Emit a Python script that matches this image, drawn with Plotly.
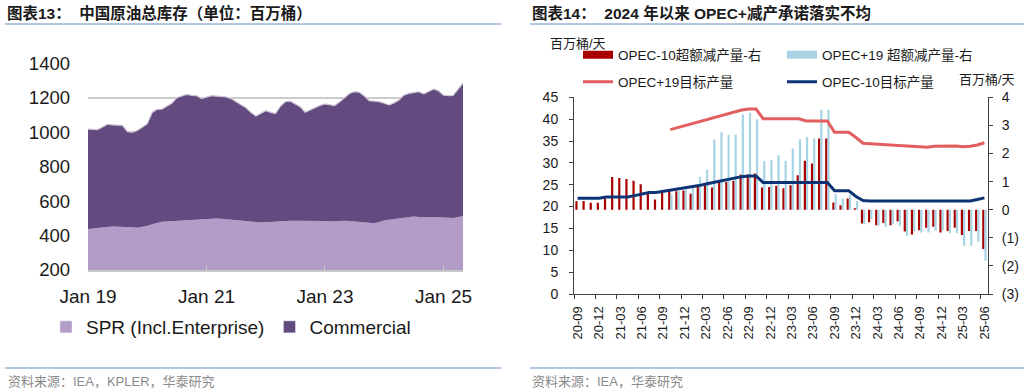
import plotly.graph_objects as go
import pandas as pd

# ---------------- Chart 13: China crude stocks (mb) ----------------
stock_months = pd.date_range("2019-01-01", periods=77, freq="MS")
spr_stock = [438, 440, 442, 446, 450, 452, 452, 452, 450, 448,
             446, 450, 457, 465, 472, 480, 482, 484, 486, 488,
             490, 492, 495, 497, 499, 500, 499, 497, 494, 492,
             488, 486, 482, 478, 475, 476, 477, 479, 482, 486,
             486, 486, 486, 486, 486, 486, 486, 486, 484, 481,
             483, 486, 486, 484, 482, 481, 478, 474, 471, 478,
             488, 492, 496, 500, 504, 508, 510, 508, 506, 506,
             506, 506, 504, 500, 502, 508, 513]
total_stock = [1018, 1017, 1015, 1030, 1046, 1042, 1043, 1040, 1003, 999,
               1010, 1028, 1048, 1115, 1132, 1134, 1150, 1168, 1200, 1212,
               1220, 1214, 1212, 1195, 1205, 1212, 1210, 1208, 1205, 1195,
               1180, 1160, 1142, 1115, 1094, 1110, 1125, 1115, 1108, 1150,
               1177, 1180, 1165, 1148, 1116, 1130, 1144, 1155, 1164, 1158,
               1155, 1175, 1200, 1225, 1235, 1232, 1210, 1183, 1180, 1177,
               1168, 1158, 1170, 1187, 1215, 1225, 1230, 1235, 1222, 1238,
               1251, 1240, 1215, 1212, 1213, 1250, 1285]
stock_tick_dates = ["2019-01-01", "2021-01-01", "2023-01-01", "2025-01-01"]
stock_yticks = [200, 400, 600, 800, 1000, 1200, 1400]

# ---------------- Chart 14: OPEC+ cuts ----------------
opec_months = list(pd.period_range("2020-09", "2025-06", freq="M").strftime("%y-%m"))
opec10_excess = [0.30, 0.31, 0.25, 0.25, 0.40, 1.16, 1.13, 1.09, 1.03, 0.91,
                 0.56, 0.36, 0.62, 0.72, 0.66, 0.68, 0.57, 0.84, 0.86, 0.79,
                 1.03, 0.99, 1.03, 1.25, 1.25, 1.29, 0.79, 0.81, 0.85, 0.76,
                 0.87, 1.23, 1.74, 1.64, 2.53, 2.53, 0.26, 0.16, 0.40, 0.05,
                 -0.49, -0.45, -0.55, -0.47, -0.55, -0.41, -0.78, -0.88, -0.73, -0.64,
                 -0.61, -0.81, -0.76, -0.64, -0.90, -0.76, -0.76, -1.40]
opec19_excess = [None, None, None, None, None, None, None, None, None, None,
                 None, None, None, 0.55, 0.66, 0.72, 0.80, 1.16, 1.42, 2.50,
                 2.76, 2.67, 2.67, 3.39, 3.45, 3.22, 1.73, 1.76, 1.94, 1.73,
                 2.18, 2.51, 2.59, 2.53, 3.56, 3.56, 0.55, 0.40, 0.52, 0.31,
                 -0.52, -0.33, -0.57, -0.61, -0.51, -0.57, -0.93, -0.78, -0.81, -0.81,
                 -0.75, -0.73, -0.84, -0.84, -1.28, -1.28, -1.14, -1.82]
opec19_target = [None, None, None, None, None, None, None, None, None, None,
                 None, None, None, 37.6, 38.05, 38.5, 38.95, 39.4, 39.85, 40.25,
                 40.65, 41.1, 41.6, 42.1, 42.3, 42.3, 40.1, 40.1, 40.1, 40.1,
                 40.1, 40.1, 39.6, 39.6, 39.6, 39.6, 37.0, 37.0, 37.0, 35.8,
                 34.5, 34.4, 34.3, 34.1, 34.0, 33.95, 33.9, 33.85, 33.75, 33.55,
                 33.8, 33.85, 33.9, 33.85, 33.7, 33.8, 34.1, 34.6]
opec10_target = [21.9, 21.9, 21.9, 21.9, 22.2, 22.2, 22.2, 22.2, 22.5, 22.85,
                 23.2, 23.2, 23.45, 23.7, 23.95, 24.2, 24.5, 24.8, 25.15, 25.5,
                 25.85, 26.2, 26.5, 26.85, 27.0, 27.0, 25.5, 25.5, 25.5, 25.5,
                 25.5, 25.5, 25.5, 25.5, 25.5, 25.5, 23.6, 23.6, 23.6, 22.3,
                 21.4, 21.3, 21.3, 21.3, 21.3, 21.3, 21.2, 21.2, 21.2, 21.2,
                 21.2, 21.3, 21.3, 21.2, 21.2, 21.3, 21.6, 22.0]
right_ticks = [-3, -2, -1, 0, 1, 2, 3, 4]
right_ticktext = ["(3)", "(2)", "(1)", "0", "1", "2", "3", "4"]

# ---------------- styles ----------------
FONT = "Liberation Sans, Arial, Noto Sans CJK SC, sans-serif"
SPR_C = "#B39CC8"
COM_C = "#634A7F"
RED = "#A80000"
LBLUE = "#A8D3E4"
PINK = "#E35E5E"
NAVY = "#0C3474"
TXT = "#1a1a1a"
W, H = 1030, 392

def px_x(v):
    return v / W

def px_y(v):
    return 1 - v / H

fig = go.Figure()

# chart 13 areas
fig.add_trace(go.Scatter(x=stock_months, y=spr_stock, mode="lines", fill="tozeroy",
                         line=dict(width=0, color=SPR_C), fillcolor=SPR_C,
                         showlegend=False, xaxis="x", yaxis="y", hoverinfo="skip"))
fig.add_trace(go.Scatter(x=stock_months, y=total_stock, mode="lines", fill="tonexty",
                         line=dict(width=1.2, color="#cdc6d6"), fillcolor=COM_C,
                         showlegend=False, xaxis="x", yaxis="y", hoverinfo="skip"))
fig.add_trace(go.Bar(x=[None], y=[None], name="SPR (Incl.Enterprise)", marker_color=SPR_C,
                     legend="legend", xaxis="x", yaxis="y"))
fig.add_trace(go.Bar(x=[None], y=[None], name="Commercial", marker_color=COM_C,
                     legend="legend", xaxis="x", yaxis="y"))

# chart 14 bars (right axis) and lines (left axis)
idx = list(range(len(opec_months)))
fig.add_trace(go.Bar(x=idx, y=opec10_excess, marker=dict(color=RED, line=dict(width=0)),
                     showlegend=False, xaxis="x2", yaxis="y2"))
fig.add_trace(go.Bar(x=idx, y=opec19_excess, marker=dict(color=LBLUE, line=dict(width=0)),
                     showlegend=False, xaxis="x2", yaxis="y2"))
fig.add_trace(go.Scatter(x=idx, y=opec19_target, mode="lines", line=dict(color=PINK, width=3),
                         showlegend=False, xaxis="x2", yaxis="y3"))
fig.add_trace(go.Scatter(x=idx, y=opec10_target, mode="lines", line=dict(color=NAVY, width=3),
                         showlegend=False, xaxis="x2", yaxis="y3"))
# legend entries
fig.add_trace(go.Scatter(x=[None], y=[None], mode="lines", line=dict(color=RED, width=8),
                         name="OPEC-10超额减产量-右", legend="legend2", xaxis="x2", yaxis="y3"))
fig.add_trace(go.Scatter(x=[None], y=[None], mode="lines", line=dict(color=LBLUE, width=8),
                         name="OPEC+19 超额减产量-右", legend="legend2", xaxis="x2", yaxis="y3"))
fig.add_trace(go.Scatter(x=[None], y=[None], mode="lines", line=dict(color=PINK, width=3),
                         name="OPEC+19目标产量", legend="legend3", xaxis="x2", yaxis="y3"))
fig.add_trace(go.Scatter(x=[None], y=[None], mode="lines", line=dict(color=NAVY, width=3),
                         name="OPEC-10目标产量", legend="legend3", xaxis="x2", yaxis="y3"))

axis_font = dict(family=FONT, color=TXT)

fig.update_layout(
    width=W, height=H, autosize=False,
    margin=dict(l=0, r=0, t=0, b=0, autoexpand=False),
    paper_bgcolor="white", plot_bgcolor="white",
    font=dict(family=FONT, color=TXT),
    barmode="group", bargap=0.38, bargroupgap=0,
    hovermode=False,
    xaxis=dict(domain=[px_x(88), px_x(463)], anchor="y", type="date",
               range=["2019-01-01", "2025-05-01"], tickvals=stock_tick_dates,
               tickformat="%b %y", ticks="inside", ticklen=5, tickcolor="#c8c8c8",
               showline=True, linecolor="#c8c8c8", linewidth=1.5, showgrid=False,
               tickfont=dict(size=19, **axis_font), ticklabelstandoff=9, automargin=False),
    yaxis=dict(domain=[px_y(270), px_y(63.3)], anchor="x", range=[200, 1400],
               tickvals=stock_yticks, showgrid=True, gridcolor="#cccccc", gridwidth=1.5,
               zeroline=False, showline=False, ticks="",
               tickfont=dict(size=18.5, **axis_font), ticklabelstandoff=17, automargin=False),
    xaxis2=dict(domain=[px_x(574), px_x(988)], anchor="y2", type="linear",
                range=[-0.5, len(opec_months) - 0.5],
                tickvals=idx[::3], ticktext=opec_months[::3], tickangle=-90,
                ticks="", showline=True, linecolor="#404040", linewidth=1,
                showgrid=False, zeroline=False,
                minor=dict(tickmode="array", tickvals=[i - 0.5 for i in idx[::3]],
                           ticks="outside", ticklen=4, tickcolor="#404040", tickwidth=1),
                tickfont=dict(size=13, **axis_font), ticklabelstandoff=6, automargin=False),
    yaxis2=dict(domain=[px_y(294), px_y(97.3)], anchor="x2", side="right",
                range=[-3, 4], tickvals=right_ticks, ticktext=right_ticktext,
                ticks="outside", ticklen=4, tickcolor="#404040",
                showline=True, linecolor="#404040", linewidth=1,
                showgrid=False, zeroline=False,
                tickfont=dict(size=14, **axis_font), ticklabelstandoff=6, automargin=False),
    yaxis3=dict(overlaying="y2", anchor="x2", side="left", range=[0, 45], dtick=5,
                ticks="outside", ticklen=4, tickcolor="#404040",
                showline=True, linecolor="#404040", linewidth=1,
                showgrid=False, zeroline=False,
                tickfont=dict(size=14, **axis_font), ticklabelstandoff=8, automargin=False),
    legend=dict(x=px_x(46), y=px_y(327), xanchor="left", yanchor="middle",
                orientation="h", itemwidth=30, bgcolor="rgba(0,0,0,0)",
                font=dict(size=19, family=FONT, color=TXT), traceorder="normal"),
    legend2=dict(x=px_x(578), y=px_y(55), xanchor="left", yanchor="middle",
                 orientation="h", itemwidth=30, entrywidth=159, entrywidthmode="pixels",
                 bgcolor="rgba(0,0,0,0)", font=dict(size=13.5, family=FONT, color=TXT),
                 traceorder="normal"),
    legend3=dict(x=px_x(578), y=px_y(82), xanchor="left", yanchor="middle",
                 orientation="h", itemwidth=30, entrywidth=159, entrywidthmode="pixels",
                 bgcolor="rgba(0,0,0,0)", font=dict(size=13.5, family=FONT, color=TXT),
                 traceorder="normal"),
)

line_c = "#9DB4D6"
shapes = [
    dict(type="line", xref="paper", yref="paper", x0=px_x(5), x1=px_x(501),
         y0=px_y(24), y1=px_y(24), line=dict(color=line_c, width=1.5)),
    dict(type="line", xref="paper", yref="paper", x0=px_x(530), x1=px_x(1024),
         y0=px_y(24), y1=px_y(24), line=dict(color=line_c, width=1.5)),
    dict(type="line", xref="paper", yref="paper", x0=px_x(5), x1=px_x(501),
         y0=px_y(368), y1=px_y(368), line=dict(color=line_c, width=1.5)),
    dict(type="line", xref="paper", yref="paper", x0=px_x(530), x1=px_x(1024),
         y0=px_y(368), y1=px_y(368), line=dict(color=line_c, width=1.5)),
]
fig.update_layout(shapes=shapes)

def ann(text, x, y, size, color=TXT, xanchor="left"):
    return dict(text=text, x=px_x(x), y=px_y(y), xref="paper", yref="paper",
                xanchor=xanchor, yanchor="middle", showarrow=False,
                font=dict(size=size, color=color, family=FONT))

fig.update_layout(annotations=[
    ann("<b>图表13：  中国原油总库存（单位：百万桶）</b>", 5, 13, 15.5),
    ann("<b>图表14：  2024 年以来 OPEC+减产承诺落实不均</b>", 530, 13, 15.5),
    ann("资料来源：IEA，KPLER，华泰研究", 6, 381, 13, "#8a8a8a"),
    ann("资料来源：IEA，华泰研究", 530, 381, 13, "#8a8a8a"),
    ann("百万桶/天", 548, 43, 13),
    ann("百万桶/天", 957, 79, 13),
])

fig.write_html("out.html",
               config={"displayModeBar": False, "staticPlot": True},
               post_script="document.body.style.margin='0px';document.body.style.overflow='hidden';")
